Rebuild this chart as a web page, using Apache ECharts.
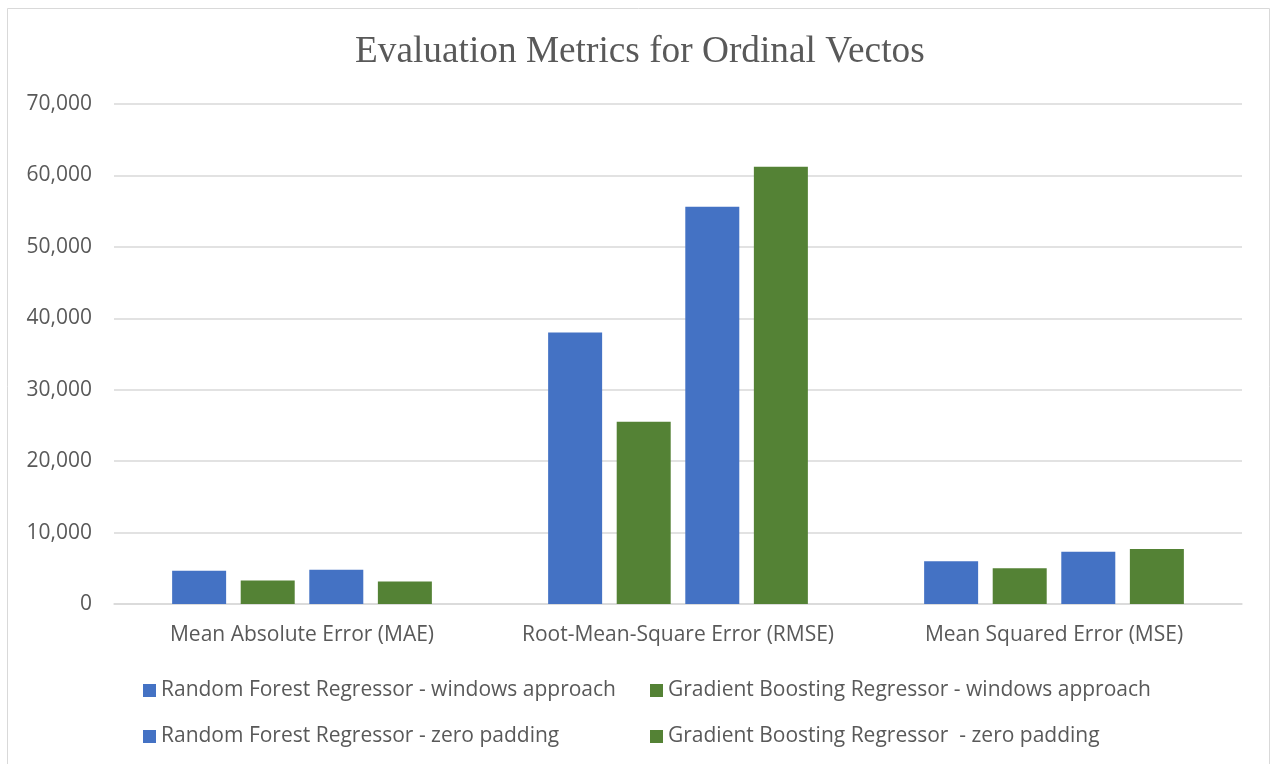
<!DOCTYPE html>
<html>
<head>
<meta charset="utf-8">
<script src="https://cdn.jsdelivr.net/npm/echarts@6/dist/echarts.min.js"></script>
<style>html,body{margin:0;padding:0;background:#fff}#c{width:1274px;height:764px}</style>
</head>
<body>
<div id="c"></div>
<script>
const categories = ['Mean Absolute Error (MAE)', 'Root-Mean-Square Error (RMSE)', 'Mean Squared Error (MSE)'];
const seriesNames = [
  'Random Forest Regressor - windows approach',
  'Gradient Boosting Regressor - windows approach',
  'Random Forest Regressor - zero padding',
  'Gradient Boosting Regressor  - zero padding'
];
const rfWindows = [4650, 38000, 6000];
const gbWindows = [3300, 25500, 5000];
const rfZero = [4800, 55600, 7300];
const gbZero = [3150, 61200, 7700];
const yTicks = [0, 10000, 20000, 30000, 40000, 50000, 60000, 70000];

const blue = '#4472C4', green = '#548235';
const font = '"Open Sans", sans-serif';
const values = [rfWindows, gbWindows, rfZero, gbZero];
const colors = [blue, green, blue, green];

const chart = echarts.init(document.getElementById('c'));
chart.setOption({
  animation: false,
  backgroundColor: '#fff',
  title: {
    text: 'Evaluation Metrics for Ordinal Vectos',
    left: 350, top: 29,
    textStyle: { fontFamily: '"Liberation Serif", serif', fontSize: 37.3, fontWeight: 'normal', color: '#595959' }
  },
  graphic: [{
    type: 'rect', shape: { x: 7.5, y: 8.5, width: 1262, height: 770 },
    style: { fill: null, stroke: '#d9d9d9', lineWidth: 1 }, silent: true, z: -1
  }],
  grid: { left: 114, right: 32, top: 104, bottom: 160 },
  legend: [
    {
      orient: 'vertical', left: 138, top: 675, itemWidth: 13, itemHeight: 13, itemGap: 25,
      icon: 'rect', data: [seriesNames[0], seriesNames[2]],
      textStyle: { fontFamily: font, fontSize: 21, color: '#595959' }
    },
    {
      orient: 'vertical', left: 645, top: 675, itemWidth: 13, itemHeight: 13, itemGap: 25,
      icon: 'rect', data: [seriesNames[1], seriesNames[3]],
      textStyle: { fontFamily: font, fontSize: 21, color: '#595959' }
    }
  ],
  xAxis: {
    type: 'category', data: categories,
    axisLine: { lineStyle: { color: '#d9d9d9', width: 1.5 } },
    axisTick: { show: false },
    axisLabel: { fontFamily: font, fontSize: 21, color: '#595959', margin: 21, interval: 0, hideOverlap: false }
  },
  yAxis: {
    type: 'value', min: 0, max: 70000, interval: 10000,
    axisLine: { show: false }, axisTick: { show: false },
    splitLine: { lineStyle: { color: '#d9d9d9', width: 1.5 } },
    axisLabel: {
      fontFamily: font, fontSize: 21, color: '#595959', margin: 22,
      formatter: v => yTicks.includes(v) ? v.toLocaleString('en-US') : ''
    }
  },
  series: values.map((d, i) => ({
    name: seriesNames[i], type: 'bar', data: d, barWidth: 54, barGap: '27%',
    itemStyle: { color: colors[i] }
  }))
});
</script>
</body>
</html>
